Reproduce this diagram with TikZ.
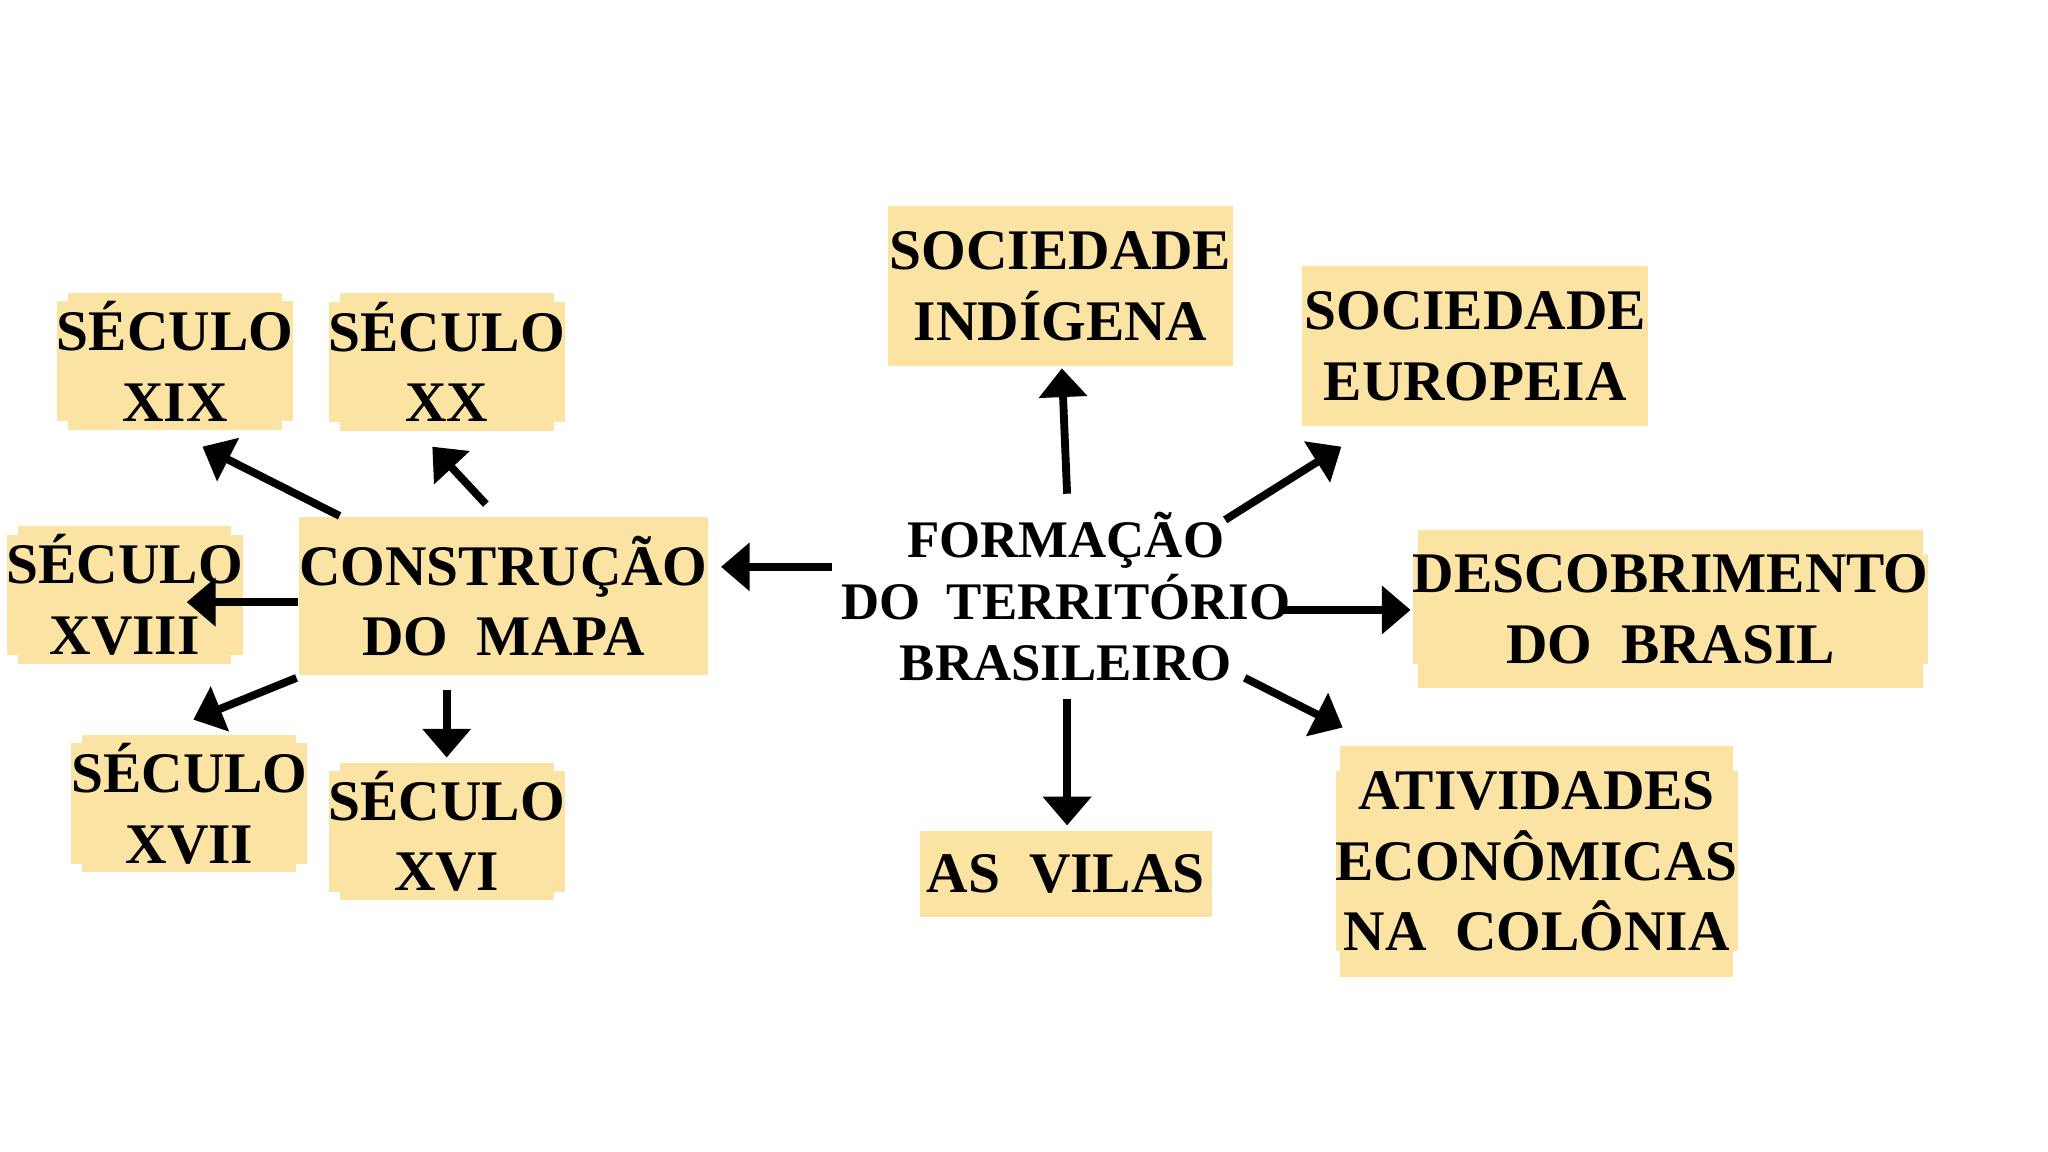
\documentclass[tikz,border=0pt]{standalone}
\usepackage{fontspec}
\setmainfont{Liberation Serif}
\usetikzlibrary{arrows.meta}
\definecolor{boxy}{HTML}{FAE3A3}
\begin{document}
\begin{tikzpicture}[x=0.01cm,y=-0.01cm,
  bx/.style={fill=boxy,inner sep=0pt,font=\fontsize{12.5}{15.4}\selectfont\bfseries,align=center},
  arr/.style={line width=0.6mm,-{Triangle[length=2.2mm,width=3.6mm]}}]
\useasboundingbox (0,0) rectangle (1568,882);
\fill[white] (0,0) rectangle (1568,882);
\newcommand{\bxn}[6]{\fill[boxy] (#1,#2) rectangle (#3,#4); \node[bx] (#5) at ({(#1+#3)/2},{(#2+#4)/2}) {#6};}
\bxn{680}{158}{944}{280}{ind}{SOCIEDADE\\INDÍGENA}
\bxn{997}{204}{1262}{326}{eur}{SOCIEDADE\\EUROPEIA}
\bxn{1086}{406}{1472}{527}{desc}{DESCOBRIMENTO\\DO\ \ BRASIL}
\bxn{1026}{571}{1327}{748}{ativ}{ATIVIDADES\\ECONÔMICAS\\NA\ \ COLÔNIA}
\bxn{704}{636}{928}{702}{vil}{AS\ \ VILAS}
\bxn{229}{396}{542}{517}{cons}{CONSTRUÇÃO\\DO\ \ MAPA}
\bxn{52}{224}{216}{329}{xix}{SÉCULO\\XIX}
\bxn{260}{224}{424}{330}{xx}{SÉCULO\\XX}
\bxn{14}{403}{177}{508}{xviii}{SÉCULO\\XVIII}
\bxn{63}{563}{227}{668}{xvii}{SÉCULO\\XVII}
\bxn{260}{584}{424}{689}{xvi}{SÉCULO\\XVI}
\node[font=\fontsize{11.5}{13.4}\selectfont\bfseries,align=center] (c) at (816,457) {FORMAÇÃO\\DO\ \ TERRITÓRIO\\BRASILEIRO};
\foreach \n/\a/\b/\cc/\d in {a1/817/378/813/282, a2/938/398/1027/342, a3/980/467/1080/467, a4/953/519/1028/557, a5/817/535/817/632, a6/637/434/552/434, a7/260/395/155/342, a8/372/386/331/342, a9/228/461/143/461, a10/227/519/148/551, a11/342/528/342/580}{
  \coordinate (\n s) at (\a,\b); \coordinate (\n e) at (\cc,\d);
  \draw[arr] (\n s) -- (\n e);}
\end{tikzpicture}
\end{document}
